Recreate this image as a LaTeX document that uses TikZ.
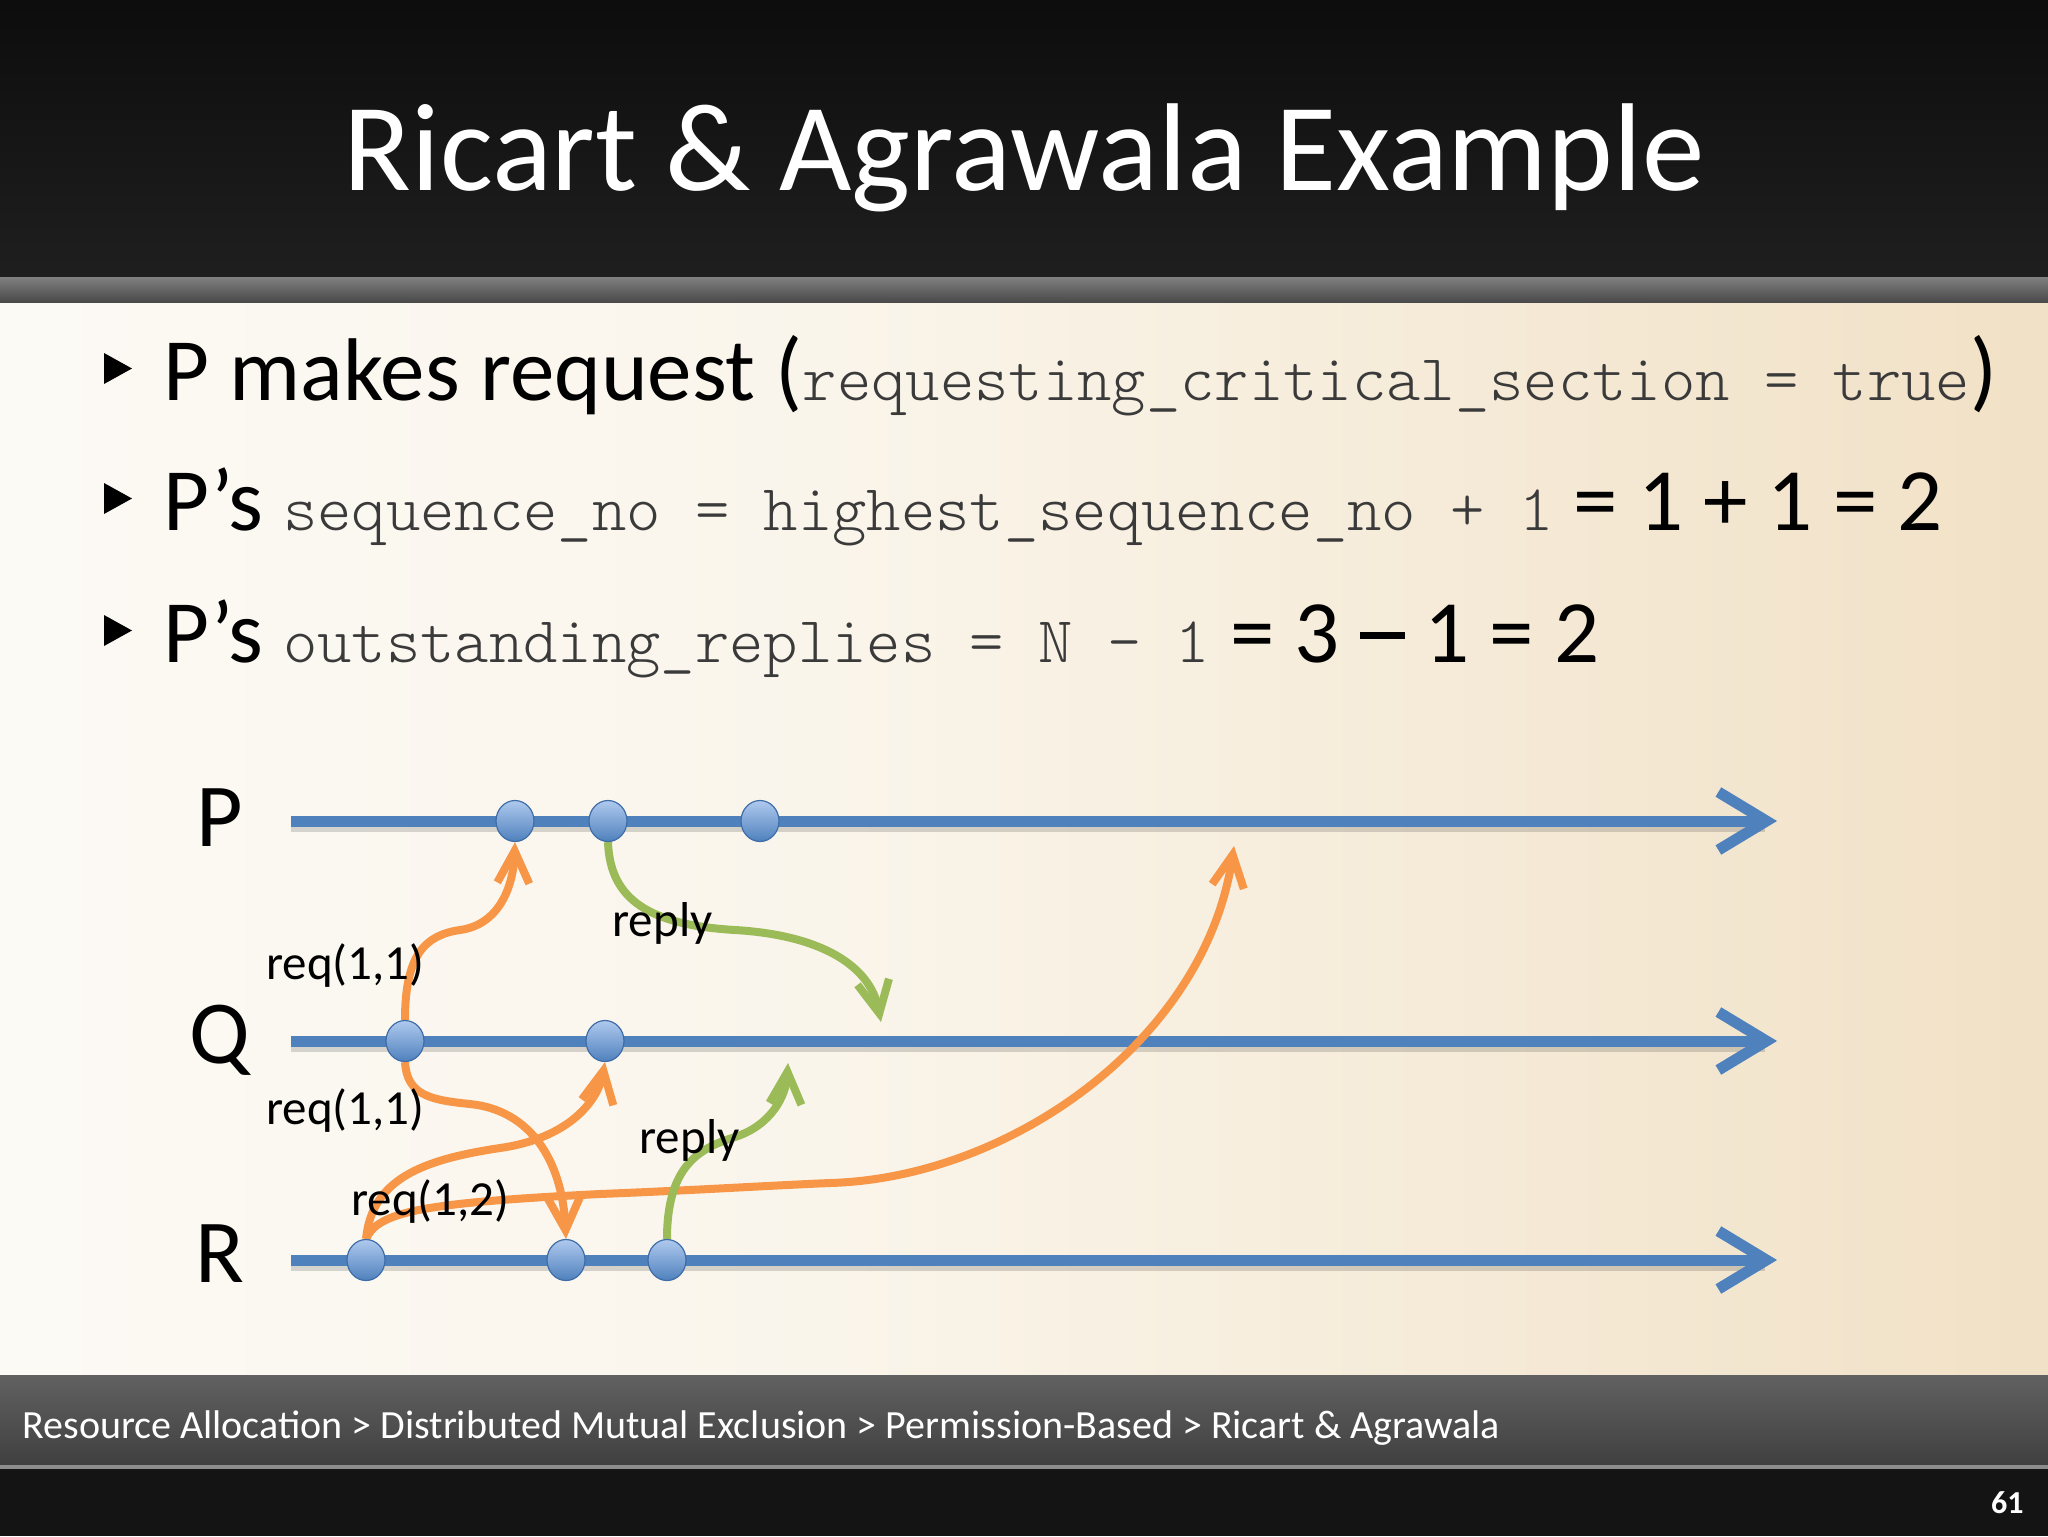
\documentclass[tikz,border=0pt]{standalone}
\usepackage{fontspec}
\setmainfont{Carlito}
\newfontfamily\lmlight{Latin Modern Mono Light}
\usetikzlibrary{arrows.meta,shapes.geometric}
\definecolor{tlblue}{HTML}{4F81BD}
\definecolor{dottop}{HTML}{AFC9EE}
\definecolor{dotedge}{HTML}{3E6DA8}
\definecolor{orng}{HTML}{F79646}
\definecolor{grn}{HTML}{9BBB59}
\definecolor{codegray}{HTML}{3A3A3A}
\definecolor{bgA}{HTML}{FCFAF5}
\definecolor{bgB}{HTML}{FAF5EB}
\definecolor{bgC}{HTML}{F1E1C6}
\pgfdeclarehorizontalshading{contentbg}{100bp}{color(0bp)=(bgA); color(25bp)=(bgA); color(45bp)=(bgB); color(75bp)=(bgC); color(100bp)=(bgC)}
\pgfdeclarelayer{bg}
\pgfdeclarelayer{mid}
\pgfsetlayers{bg,mid,main}
\newcommand\codef{\lmlight\fontsize{32.7pt}{36pt}\selectfont\color{codegray}}
\newcommand\bigdash{\rule[0.26em]{0.5em}{0.08em}}
\tikzset{
  btxt/.style={inner sep=0, anchor=base west, font=\fontsize{44.5pt}{50pt}\selectfont},
  proc/.style={inner sep=0, anchor=base, font=\fontsize{45pt}{50pt}\selectfont},
  lbl/.style={inner sep=0, anchor=base west, font=\fontsize{24.5pt}{28pt}\selectfont},
  dot/.style={ellipse, minimum width=19pt, minimum height=20.5pt, inner sep=0,
    draw=dotedge, line width=0.6pt, top color=dottop, bottom color=tlblue},
  timeline/.style={draw=tlblue, line width=5.5pt, -{Straight Barb[length=24pt,width=29pt]}},
  tlshadow/.style={draw=black, opacity=0.15, line width=5.5pt},
  oarr/.style={draw=orng, line width=4pt, -{Straight Barb[length=16pt,width=16pt]}},
  garr/.style={draw=grn, line width=4pt, -{Straight Barb[length=16pt,width=16pt]}},
  bullet/.style={fill=black}
}
\begin{document}
\begin{tikzpicture}[x=0.5pt,y=-0.5pt]
\useasboundingbox (0,0) rectangle (2048,1536);
\begin{pgfonlayer}{bg}
% header
\shade[top color=black!95, bottom color=black!88] (0,0) rectangle (2048,277);
\shade[top color=black!50, bottom color=black!72] (0,277) rectangle (2048,303);
% content
\shade[shading=contentbg] (0,303) rectangle (2048,1375);
% footer
\shade[top color=black!62, bottom color=black!75] (0,1375) rectangle (2048,1465);
\fill[black!45] (0,1465) rectangle (2048,1469);
\fill[black!92] (0,1469) rectangle (2048,1536);
\end{pgfonlayer}

% title
\node[anchor=base, text=white, inner sep=0, font=\fontsize{62.5pt}{70pt}\selectfont] (title) at (1024,190) {Ricart \& Agrawala Example};

% bullets
\fill[bullet] (104,353) -- (132,368.5) -- (104,384) -- cycle;
\fill[bullet] (104,483) -- (132,498.5) -- (104,514) -- cycle;
\fill[bullet] (104,615) -- (132,630.5) -- (104,646) -- cycle;
\node[btxt] (b1) at (163,400) {P makes request ({\codef requesting\_critical\_section = true})};
\node[btxt] (b2) at (163,530) {P’s {\codef sequence\_no = highest\_sequence\_no + 1} = 1 + 1 = 2};
\node[btxt] (b3) at (163,662) {P’s {\codef outstanding\_replies = N - 1} = 3 \bigdash{} 1 = 2};

% process labels
\node[proc] (lP) at (220,846) {P};
\node[proc] (lQ) at (220,1063) {Q};
\node[proc] (lR) at (220,1282) {R};

% timelines
\coordinate (ps) at (291,821);  \coordinate (pe) at (1777,821);
\coordinate (qs) at (291,1041); \coordinate (qe) at (1777,1041);
\coordinate (rs) at (291,1260); \coordinate (re) at (1777,1260);
\begin{pgfonlayer}{bg}
\foreach \s/\e in {ps/pe,qs/qe,rs/re}{
  \draw[tlshadow] ([yshift=-2.5pt]\s) -- ([yshift=-2.5pt,xshift=-6pt]\e);
  \draw[timeline] (\s) -- (\e);
}
\end{pgfonlayer}

% events
\node[dot] (p1) at (515,821) {};
\node[dot] (p2) at (608,821) {};
\node[dot] (p3) at (760,821) {};
\node[dot] (q1) at (405,1041) {};
\node[dot] (q2) at (605,1041) {};
\node[dot] (r1) at (366,1260) {};
\node[dot] (r2) at (566,1260) {};
\node[dot] (r3) at (667,1260) {};

\coordinate (pend) at (1234,846);
\coordinate (g1end) at (881,1022);
\coordinate (g2end) at (788,1063);

\begin{pgfonlayer}{mid}
% Q -> P req(1,1)
\draw[oarr] (q1.north) .. controls (405,955) and (425,935) .. (460,930)
  .. controls (497,925) and (513,890) .. (p1.south);
% Q -> R req(1,1)
\draw[oarr] (q1.south) .. controls (407,1095) and (430,1100) .. (470,1104)
  .. controls (530,1110) and (562,1160) .. (r2.north);
% R -> Q req(1,2)
\draw[oarr] (r1.north) .. controls (372,1180) and (420,1160) .. (500,1148)
  .. controls (570,1138) and (598,1100) .. (q2.south);
% R -> P req(1,2)
\draw[oarr] (r1.north) .. controls (378,1212) and (420,1203) .. (600,1194)
  .. controls (700,1190) and (760,1186) .. (830,1183)
  .. controls (1010,1178) and (1205,1040) .. (pend);
% P -> Q reply
\draw[garr] (p2.south) .. controls (610,900) and (650,925) .. (735,930)
  .. controls (820,935) and (870,965) .. (g1end);
% R -> Q reply
\draw[garr] (r3.north) .. controls (667,1165) and (700,1148) .. (735,1137)
  .. controls (772,1125) and (786,1095) .. (g2end);
\end{pgfonlayer}

% message labels
\node[lbl] (m1) at (266,979) {req(1,1)};
\node[lbl] (m2) at (266,1124) {req(1,1)};
\node[lbl] (m3) at (351,1215) {req(1,2)};
\node[lbl] (m4) at (612,936) {reply};
\node[lbl] (m5) at (639,1153) {reply};

% footer
\node[anchor=base west, inner sep=0, text=white, font=\fontsize{20pt}{24pt}\selectfont] (crumb) at (22,1438)
  {Resource Allocation > Distributed Mutual Exclusion > Permission-Based > Ricart \& Agrawala};
\node[anchor=base east, inner sep=0, text=white, font=\fontsize{16pt}{20pt}\selectfont\bfseries] (pgno) at (2024,1513) {61};
\end{tikzpicture}
\end{document}
